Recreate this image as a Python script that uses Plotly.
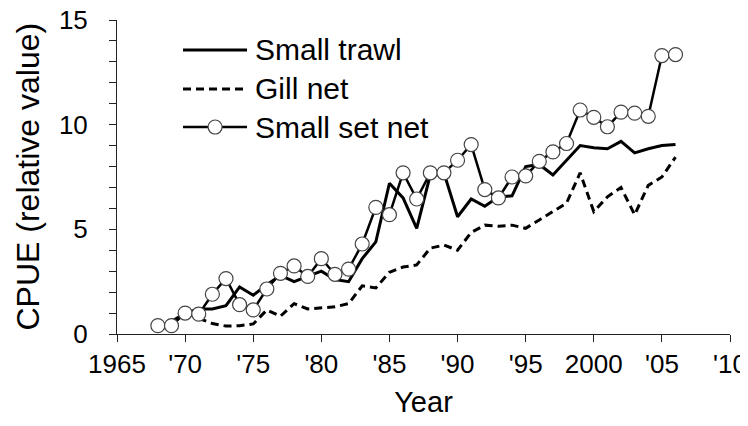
import plotly.graph_objects as go

# CPUE series (relative value)
years_trawl = list(range(1969, 2007))
small_trawl = [0.6, 1.0, 1.2, 1.2, 1.35, 2.25, 1.85, 2.35, 2.8, 2.5,
               2.75, 3.0, 2.6, 2.5, 3.6, 4.4, 7.2, 6.5, 5.05, 7.6,
               7.7, 5.6, 6.45, 6.1, 6.55, 6.6, 8.0, 8.1, 7.6, 8.3,
               9.0, 8.9, 8.85, 9.2, 8.65, 8.85, 9.0, 9.05]

years_gill = list(range(1971, 2007))
gill_net = [0.75, 0.5, 0.38, 0.4, 0.48, 1.15, 0.85, 1.45, 1.2, 1.25,
            1.3, 1.45, 2.3, 2.2, 2.95, 3.2, 3.3, 4.1, 4.25, 4.0,
            4.85, 5.2, 5.15, 5.2, 5.05, 5.45, 5.85, 6.25, 7.7, 5.85,
            6.55, 7.0, 5.7, 7.1, 7.5, 8.45]

years_setnet = list(range(1968, 2007))
small_set_net = [0.4, 0.4, 1.0, 0.95, 1.9, 2.65, 1.4, 1.15, 2.15, 2.9,
                 3.25, 2.75, 3.6, 2.85, 3.1, 4.3, 6.05, 5.7, 7.7, 6.45,
                 7.7, 7.7, 8.3, 9.05, 6.9, 6.5, 7.5, 7.55, 8.25, 8.7,
                 9.1, 10.7, 10.35, 9.9, 10.6, 10.55, 10.4, 13.3, 13.35]

tick_years = [1965, 1970, 1975, 1980, 1985, 1990, 1995, 2000, 2005, 2010]
tick_text = ["1965", "'70", "'75", "'80", "'85", "'90", "'95", "2000", "'05", "'10"]

names = ["Small trawl", "Gill net", "Small set net"]

FONT = "Liberation Sans, Arial, sans-serif"

fig = go.Figure()
fig.add_trace(go.Scatter(x=years_trawl, y=small_trawl, mode="lines", name=names[0],
                         line=dict(color="black", width=3)))
fig.add_trace(go.Scatter(x=years_gill, y=gill_net, mode="lines", name=names[1],
                         line=dict(color="black", width=3, dash="8px,5px")))
fig.add_trace(go.Scatter(x=years_setnet, y=small_set_net, mode="lines+markers", name=names[2],
                         line=dict(color="black", width=2.5),
                         marker=dict(size=14, color="white",
                                     line=dict(color="#444", width=1.2))))

# hand-made legend (long line samples like the original)
rows = [0.9045, 0.7803, 0.6592]
for i, nm in enumerate(names):
    fig.add_shape(type="line", xref="paper", yref="paper",
                  x0=0.1077, x1=0.2121, y0=rows[i], y1=rows[i],
                  line=dict(color="black", width=3 if i < 2 else 2.5,
                            dash="8px,5px" if i == 1 else "solid"))
    fig.add_annotation(x=0.2219, y=rows[i], xref="paper", yref="paper",
                       text=nm, showarrow=False, xanchor="left", yanchor="middle",
                       font=dict(family=FONT, size=30, color="black"))
fig.add_shape(type="circle", xref="paper", yref="paper",
              xsizemode="pixel", ysizemode="pixel",
              xanchor=0.16, yanchor=rows[2], x0=-7, x1=7, y0=-7, y1=7,
              fillcolor="white", line=dict(color="#444", width=1.2))

# y axis title as a rotated annotation so it can sit close to the edge
fig.add_annotation(x=-0.146, y=0.5, xref="paper", yref="paper",
                   text="CPUE (relative value)", textangle=-90, showarrow=False,
                   xanchor="center", yanchor="middle",
                   font=dict(family=FONT, size=32, color="black"))

# page has an 8px body margin, so the figure is a bit smaller than the window
fig.update_layout(
    width=740, height=410,
    margin=dict(l=109, r=18, t=12, b=84),
    plot_bgcolor="white", paper_bgcolor="white",
    showlegend=False,
    font=dict(family=FONT, color="black"),
)
fig.update_xaxes(range=[1965, 2010], tickvals=tick_years, ticktext=tick_text,
                 automargin=False, ticklabeloverflow="allow",
                 showgrid=False, zeroline=False, showline=True, linecolor="#222",
                 linewidth=1, ticks="outside", ticklen=7, tickcolor="#222",
                 tickfont=dict(size=26), title=dict(text="Year", font=dict(size=29), standoff=19))
fig.update_yaxes(range=[0, 15], tickvals=[0, 5, 10, 15],
                 automargin=False, ticklabeloverflow="allow",
                 showgrid=False, zeroline=False, showline=True, linecolor="#222",
                 linewidth=1, ticks="outside", ticklen=7, tickcolor="#222",
                 minor=dict(dtick=1, ticks="outside", ticklen=7, tickcolor="#222"),
                 tickfont=dict(size=26), ticklabelstandoff=16)

fig.write_html("out.html")
